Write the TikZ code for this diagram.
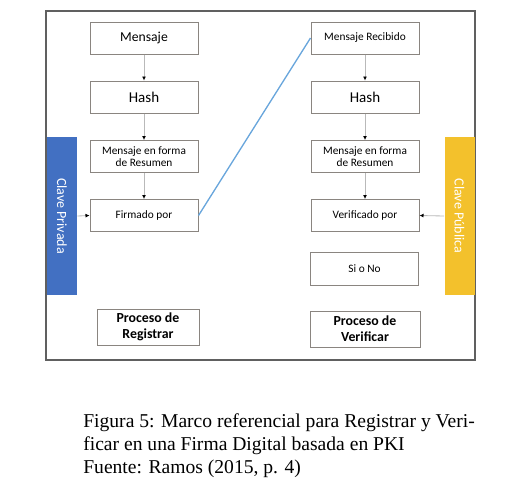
\documentclass[tikz,border=0pt]{standalone}
\usepackage{fontspec}
\setmainfont{Liberation Serif}
\newfontfamily\boxfont{Carlito}
\usetikzlibrary{arrows.meta}

\definecolor{privblue}{HTML}{4270C2}
\definecolor{pubgold}{HTML}{F3C12C}
\definecolor{linkblue}{HTML}{69A6DC}
\definecolor{boxline}{HTML}{8A8580}

\begin{document}
\begin{tikzpicture}[x=0.6pt, y=-0.6pt,
  box/.style={draw=boxline, line width=0.6pt, minimum width=64.8pt, minimum height=19.2pt,
    inner sep=1pt, align=center, font=\boxfont\fontsize{6.8}{7.6}\selectfont},
  titlebox/.style={box, font=\boxfont\bfseries\fontsize{8.3}{9.6}\selectfont},
  keybar/.style={rotate=-90, minimum width=94.8pt, minimum height=18pt, inner sep=0pt,
    text=white, font=\boxfont\fontsize{8.4}{9}\selectfont},
  flow/.style={draw=gray!55, line width=0.5pt, -{Latex[length=2.4pt,width=2.4pt,color=black]}}]
  \useasboundingbox (0,0) rectangle (506,485);

  % Outer frame
  \draw[gray!75!black, line width=0.9pt] (46,11) rectangle (475,360);

  % Key bars on the sides
  \node[keybar, fill=privblue] (privada) at (62,216) {Clave Privada};
  \node[keybar, fill=pubgold] (publica) at (459.5,216) {Clave Pública};

  % Signing column
  \node[box, font=\boxfont\fontsize{8.2}{9}\selectfont] (mensaje) at (144,38) {Mensaje};
  \node[box, font=\boxfont\fontsize{9}{10}\selectfont] (hash) at (144,97) {Hash};
  \node[box] (resumen) at (144,156.5) {Mensaje en forma\\de Resumen};
  \node[box] (firmado) at (144,215.5) {Firmado por};
  \node[titlebox, minimum width=61.2pt, minimum height=21.6pt] (registrar) at (148,327) {Proceso de\\Registrar};

  % Verifying column
  \node[box] (recibido) at (365,38) {Mensaje Recibido};
  \node[box, font=\boxfont\fontsize{9}{10}\selectfont] (hashb) at (365,97) {Hash};
  \node[box] (resumenb) at (365,156.5) {Mensaje en forma\\de Resumen};
  \node[box] (verificado) at (365,215.5) {Verificado por};
  \node[box, minimum height=19.8pt] (sino) at (364.5,268.5) {Si o No};
  \node[titlebox, minimum width=66pt, minimum height=21.6pt] (verificar) at (365,329) {Proceso de\\Verificar};

  % Flow arrows
  \draw[flow] (mensaje) -- (hash);
  \draw[flow] (hash) -- (resumen);
  \draw[flow] (resumen) -- (firmado);
  \draw[flow] (privada.north) -- (firmado.west);
  \draw[flow] (recibido) -- (hashb);
  \draw[flow] (hashb) -- (resumenb);
  \draw[flow] (resumenb) -- (verificado);
  \draw[flow] (publica.south) -- (verificado.east);

  % Signed message sent over
  \draw[linkblue, line width=0.8pt] (firmado.east) -- (recibido.west);

  % Caption
  \node[anchor=north west, align=left, inner sep=0pt, font=\fontsize{11.75}{14}\selectfont] (caption) at (83,413)
    {Figura 5: Marco referencial para Registrar y Veri-\\ficar en una Firma Digital basada en PKI\\Fuente: Ramos (2015, p. 4)};
\end{tikzpicture}
\end{document}
